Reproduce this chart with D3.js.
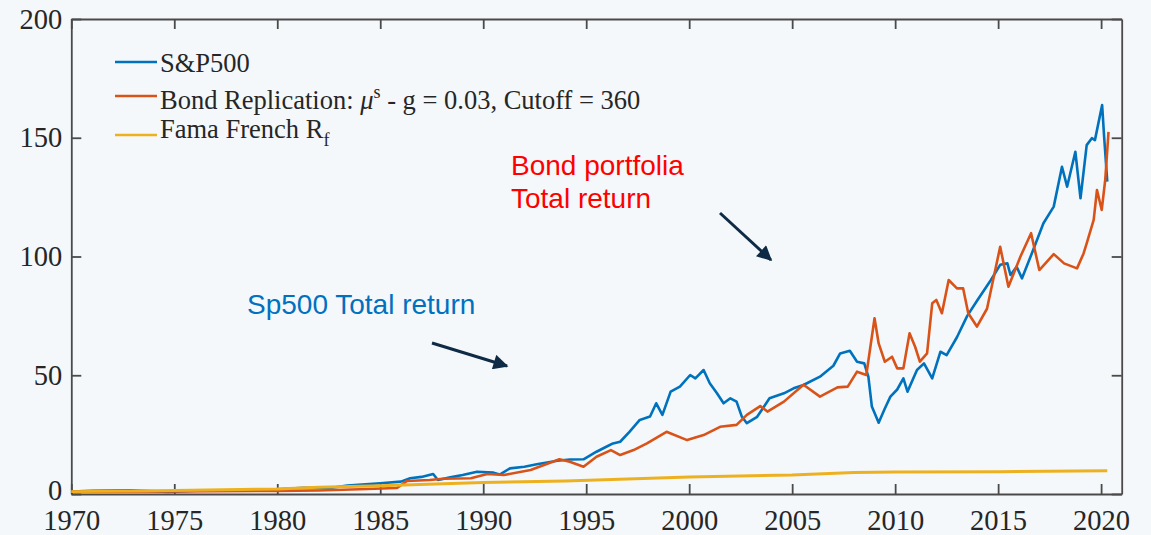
<!DOCTYPE html>
<html>
<head>
  <script src="https://d3js.org/d3.v7.min.js"></script>
  <style>
    body { margin: 0; background: #f4f8fa; }
    svg { display: block; }
    .tick text { font-family: "Liberation Serif", serif; font-size: 28.5px; fill: #262626; }
    .legend text { font-family: "Liberation Serif", serif; font-size: 26.5px; fill: #262626; }
    .note { font-family: "Liberation Sans", sans-serif; font-size: 28px; }
  </style>
</head>
<body>
<svg width="1151" height="535">
  <g id="axes"/>
  <g id="lines"/>
  <g id="legend" class="legend"/>
  <g id="notes"/>
</svg>
<script>
  // values: [year, value]
  let sp500 = [
    [1970.0, 1.0], [1971.0, 1.3], [1972.9, 1.6], [1974.7, 0.9], [1976.0, 1.4], [1978.0, 1.5],
    [1980.0, 2.0], [1981.3, 2.6], [1982.5, 2.4], [1983.4, 3.6], [1985.0, 4.5], [1986.0, 5.2],
    [1986.45, 6.6], [1987.0, 7.2], [1987.57, 8.4], [1987.8, 5.9], [1988.4, 7.0], [1989.0, 8.0],
    [1989.7, 9.4], [1990.5, 9.0], [1990.8, 8.2], [1991.3, 10.8], [1992.0, 11.5], [1992.6, 12.5],
    [1993.6, 14.0], [1994.2, 14.5], [1994.87, 14.6], [1995.5, 17.8], [1996.0, 20.0], [1996.3, 21.3],
    [1996.65, 22.0], [1997.1, 26.2], [1997.6, 31.2], [1998.1, 32.6], [1998.4, 38.2], [1998.7, 33.3],
    [1999.1, 43.1], [1999.55, 45.2], [2000.05, 50.1], [2000.3, 48.7], [2000.7, 52.2], [2001.0, 46.6],
    [2001.35, 42.4], [2001.67, 38.2], [2002.0, 40.3], [2002.3, 38.9], [2002.56, 32.5], [2002.8, 29.8],
    [2003.3, 32.5], [2003.9, 40.3], [2004.6, 42.4], [2005.07, 44.5], [2005.55, 45.9], [2006.35, 49.4],
    [2007.0, 54.0], [2007.33, 59.2], [2007.8, 60.3], [2008.15, 55.7], [2008.5, 55.0], [2008.7, 49.4],
    [2008.87, 36.8], [2009.2, 30.0], [2009.5, 36.0], [2009.77, 41.0], [2010.1, 44.0], [2010.4, 48.7],
    [2010.6, 43.1], [2011.06, 52.2], [2011.4, 55.0], [2011.8, 48.7], [2012.2, 59.9], [2012.5, 58.5],
    [2013.0, 66.0], [2013.5, 75.0], [2014.0, 81.7], [2014.65, 90.1], [2015.1, 96.5], [2015.45, 97.1],
    [2015.6, 92.2], [2015.9, 95.7], [2016.16, 90.8], [2016.7, 102.7], [2017.2, 114.0], [2017.7, 121.0],
    [2018.1, 137.8], [2018.35, 129.4], [2018.75, 144.1], [2019.0, 124.5], [2019.3, 146.9], [2019.55, 149.8],
    [2019.7, 149.0], [2020.05, 163.8], [2020.15, 150.0], [2020.3, 131.5]
  ];

  let bond = [
    [1970.0, 1.0], [1975.0, 1.1], [1980.0, 1.3], [1982.0, 1.5], [1984.0, 2.0], [1985.8, 2.5],
    [1986.3, 5.5], [1987.4, 5.9], [1988.05, 6.4], [1989.4, 6.6], [1990.2, 8.4], [1991.0, 8.0],
    [1992.3, 10.1], [1993.7, 14.6], [1994.2, 13.6], [1994.87, 11.5], [1995.5, 15.7], [1996.2, 18.5],
    [1996.65, 16.4], [1997.3, 18.5], [1997.95, 21.3], [1998.9, 26.2], [1999.9, 22.7], [2000.7, 24.8],
    [2001.5, 28.3], [2002.3, 29.1], [2002.8, 33.3], [2003.45, 37.0], [2003.8, 34.7], [2004.6, 38.9],
    [2005.55, 46.0], [2006.35, 41.0], [2007.2, 44.9], [2007.7, 45.2], [2008.15, 51.5], [2008.6, 50.1],
    [2009.0, 74.0], [2009.2, 63.4], [2009.5, 55.7], [2009.85, 57.8], [2010.1, 52.9], [2010.4, 52.9],
    [2010.7, 67.7], [2010.97, 62.0], [2011.2, 55.7], [2011.55, 59.2], [2011.8, 80.3], [2012.0, 81.7],
    [2012.27, 76.1], [2012.6, 90.1], [2013.0, 86.6], [2013.3, 86.6], [2013.55, 76.1], [2013.97, 70.5],
    [2014.46, 78.0], [2015.1, 104.1], [2015.5, 87.3], [2016.08, 99.9], [2016.6, 109.8], [2017.0, 94.3],
    [2017.7, 101.0], [2018.2, 97.1], [2018.83, 95.0], [2019.15, 101.3], [2019.3, 105.5], [2019.64, 115.4],
    [2019.8, 128.0], [2020.03, 119.6], [2020.2, 132.2], [2020.36, 152.5]
  ];

  let riskFree = [
    [1970, 1.0], [1975, 1.45], [1980, 2.1], [1982, 2.8], [1985, 3.5], [1990, 4.8], [1994, 5.5],
    [2000, 7.2], [2005, 8.0], [2008, 9.1], [2010, 9.3], [2015, 9.4], [2020.3, 9.8]
  ];

  let xTicks = [1970, 1975, 1980, 1985, 1990, 1995, 2000, 2005, 2010, 2015, 2020];
  let yTicks = [0, 50, 100, 150, 200];

  let colors = { sp: "#0072BD", bond: "#D95319", rf: "#EDB120" };

  let x = d3.scaleLinear().domain([1970, 2021]).range([71.3, 1121.7]);
  let y = d3.scaleLinear().domain([0, 200]).range([494, 19]);

  let svg = d3.select("svg");
  let axes = d3.select("#axes");

  axes.append("g")
    .attr("transform", `translate(0, ${y(0)})`)
    .call(d3.axisBottom(x).tickValues(xTicks).tickFormat(d3.format("d"))
      .tickSizeInner(-10).tickSizeOuter(0).tickPadding(16));
  axes.append("g")
    .attr("transform", `translate(0, ${y(200)})`)
    .call(d3.axisTop(x).tickValues(xTicks).tickFormat("").tickSizeInner(-10).tickSizeOuter(0));
  let yAxis = axes.append("g")
    .attr("transform", `translate(${x(1970)}, 0)`)
    .call(d3.axisLeft(y).tickValues(yTicks).tickSizeInner(-10).tickSizeOuter(0).tickPadding(9));
  // lift the "0" a touch so it clears the year labels
  yAxis.selectAll(".tick text").filter(d => d === 0).attr("dy", "0.2em");
  axes.append("g")
    .attr("transform", `translate(${x(2021)}, 0)`)
    .call(d3.axisRight(y).tickValues(yTicks).tickFormat("").tickSizeInner(-10).tickSizeOuter(0));

  axes.selectAll("path.domain").attr("stroke", "#4a4a4a").attr("stroke-width", 1.8);
  axes.selectAll(".tick line").attr("stroke", "#4a4a4a").attr("stroke-width", 1.8);

  let line = d3.line().x(d => x(d[0])).y(d => y(d[1]));
  let series = [
    { data: sp500, color: colors.sp, w: 2.6 },
    { data: bond, color: colors.bond, w: 2.6 },
    { data: riskFree, color: colors.rf, w: 3 }
  ];
  d3.select("#lines").selectAll("path")
    .data(series).enter()
    .append("path")
    .attr("d", d => line(d.data))
    .attr("fill", "none")
    .attr("stroke", d => d.color)
    .attr("stroke-width", d => d.w)
    .attr("stroke-linejoin", "round");

  // legend
  let legend = d3.select("#legend");
  let legendRows = [
    { color: colors.sp, ly: 62 },
    { color: colors.bond, ly: 96 },
    { color: colors.rf, ly: 135 }
  ];
  legend.selectAll("line")
    .data(legendRows).enter()
    .append("line")
    .attr("x1", 115).attr("x2", 157)
    .attr("y1", d => d.ly).attr("y2", d => d.ly)
    .attr("stroke", d => d.color).attr("stroke-width", 2.6);

  legend.append("text").attr("x", 160).attr("y", 72).text("S&P500");
  let t2 = legend.append("text").attr("x", 160).attr("y", 109);
  t2.append("tspan").text("Bond Replication: ");
  t2.append("tspan").attr("font-style", "italic").text("\u03bc");
  t2.append("tspan").attr("font-size", 18).attr("dy", -11).text("s");
  t2.append("tspan").attr("dy", 11).text(" - g = 0.03, Cutoff = 360");
  let t3 = legend.append("text").attr("x", 160).attr("y", 138);
  t3.append("tspan").text("Fama French R");
  t3.append("tspan").attr("font-size", 18).attr("dy", 8).text("f");

  // annotations
  let defs = svg.append("defs");
  defs.append("marker")
    .attr("id", "head").attr("viewBox", "0 0 10 10")
    .attr("refX", 9).attr("refY", 5)
    .attr("markerWidth", 5.5).attr("markerHeight", 5)
    .attr("orient", "auto")
    .append("path").attr("d", "M0,0 L10,5 L0,10 Z").attr("fill", "#0e2a45");

  let notes = d3.select("#notes");
  notes.append("text").attr("class", "note").attr("x", 511).attr("y", 175)
    .attr("fill", "#ff0000").text("Bond portfolia");
  notes.append("text").attr("class", "note").attr("x", 511).attr("y", 208)
    .attr("fill", "#ff0000").text("Total return");
  notes.append("text").attr("class", "note").attr("x", 247).attr("y", 314)
    .attr("fill", "#0070c0").text("Sp500 Total return");

  let arrows = [
    { x1: 720, y1: 213, x2: 771, y2: 260 },
    { x1: 432, y1: 343, x2: 507, y2: 366 }
  ];
  notes.selectAll("line")
    .data(arrows).enter()
    .append("line")
    .attr("x1", d => d.x1).attr("y1", d => d.y1)
    .attr("x2", d => d.x2).attr("y2", d => d.y2)
    .attr("stroke", "#0e2a45").attr("stroke-width", 3)
    .attr("marker-end", "url(#head)");
</script>
</body>
</html>
